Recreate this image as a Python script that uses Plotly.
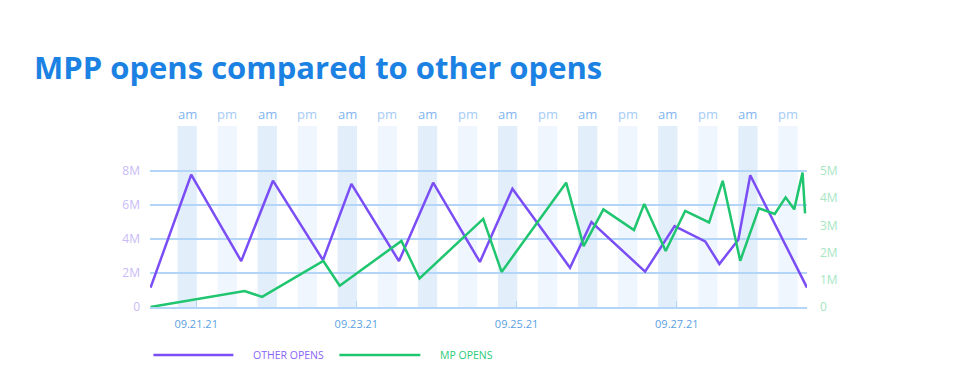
import plotly.graph_objects as go
import pandas as pd

# ---------------- data ----------------
other_dates = ["2021-09-20 10:20", "2021-09-20 22:30", "2021-09-21 13:30", "2021-09-21 23:00",
               "2021-09-22 14:00", "2021-09-22 22:30", "2021-09-23 12:45", "2021-09-23 23:00",
               "2021-09-24 13:00", "2021-09-24 22:45", "2021-09-25 16:00", "2021-09-25 22:25",
               "2021-09-26 14:30", "2021-09-26 23:20", "2021-09-27 08:30", "2021-09-27 12:45",
               "2021-09-27 18:25", "2021-09-27 22:00", "2021-09-28 15:00"]
other_opens = [1.14e6, 7.78e6, 2.70e6, 7.43e6, 2.76e6, 7.24e6, 2.70e6, 7.31e6, 2.65e6, 6.96e6,
               2.31e6, 5.00e6, 2.08e6, 4.76e6, 3.86e6, 2.53e6, 3.96e6, 7.75e6, 1.14e6]

mp_dates = ["2021-09-20 10:20", "2021-09-21 14:30", "2021-09-21 19:45", "2021-09-22 14:05",
            "2021-09-22 19:00", "2021-09-23 13:30", "2021-09-23 18:55", "2021-09-24 14:00",
            "2021-09-24 19:30", "2021-09-25 14:50", "2021-09-25 20:05", "2021-09-26 02:00",
            "2021-09-26 11:10", "2021-09-26 14:15", "2021-09-26 20:40", "2021-09-27 02:30",
            "2021-09-27 09:40", "2021-09-27 13:45", "2021-09-27 19:00", "2021-09-28 00:35",
            "2021-09-28 05:20", "2021-09-28 08:35", "2021-09-28 11:10", "2021-09-28 13:40",
            "2021-09-28 14:25"]
mp_opens = [0.0, 0.59e6, 0.37e6, 1.69e6, 0.78e6, 2.43e6, 1.05e6, 3.24e6, 1.29e6, 4.57e6,
            2.24e6, 3.59e6, 2.83e6, 3.79e6, 2.06e6, 3.53e6, 3.11e6, 4.64e6, 1.70e6, 3.63e6,
            3.42e6, 4.03e6, 3.59e6, 4.94e6, 3.44e6]

band_days = ["2021-09-21", "2021-09-22", "2021-09-23", "2021-09-24",
             "2021-09-25", "2021-09-26", "2021-09-27", "2021-09-28"]
x_tick_vals = ["2021-09-21", "2021-09-23", "2021-09-25", "2021-09-27"]
x_tick_text = ["09.21.21", "09.23.21", "09.25.21", "09.27.21"]
left_ticks = [0, 2e6, 4e6, 6e6, 8e6]
left_text = ["0", "2M", "4M", "6M", "8M"]
right_ticks = [0, 1e6, 2e6, 3e6, 4e6, 5e6]
right_text = ["0", "1M", "2M", "3M", "4M", "5M"]

# ---------------- style ----------------
PURPLE = "#7a4df5"
GREEN = "#1fc56f"
GRID = "#b3d5f7"
AM_BAND = "#e2effb"
PM_BAND = "#f0f6fe"
FONT = "Open Sans"

fig = go.Figure()
fig.add_trace(go.Scatter(x=other_dates, y=other_opens, mode="lines", name="OTHER OPENS",
                         line=dict(color=PURPLE, width=2.5), yaxis="y", showlegend=False))
fig.add_trace(go.Scatter(x=mp_dates, y=mp_opens, mode="lines", name="MP OPENS",
                         line=dict(color=GREEN, width=2.5), yaxis="y2", showlegend=False))

shapes = []
annotations = []
for d in band_days:
    day = pd.Timestamp(d)
    am0 = day - pd.Timedelta(hours=5, minutes=36)
    am1 = day + pd.Timedelta(minutes=12)
    pm0 = day + pd.Timedelta(hours=6, minutes=24)
    pm1 = day + pd.Timedelta(hours=12, minutes=12)
    for (a, b, col, lab, tc) in [(am0, am1, AM_BAND, "am", "#82b5ee"), (pm0, pm1, PM_BAND, "pm", "#a6cbf4")]:
        shapes.append(dict(type="rect", xref="x", yref="paper", x0=a, x1=b, y0=0, y1=1,
                           fillcolor=col, line=dict(width=0), layer="below"))
        annotations.append(dict(xref="x", yref="paper", x=a + (b - a) / 2, y=(307 - 114) / 181,
                                yanchor="middle", text=lab, showarrow=False,
                                font=dict(family=FONT, size=13, color=tc)))

# custom legend
leg_y = -0.265
shapes.append(dict(type="line", xref="paper", yref="paper", x0=(153 - 149.6) / 657.2, x1=(233 - 149.6) / 657.2,
                   y0=leg_y, y1=leg_y, line=dict(color=PURPLE, width=2.5)))
shapes.append(dict(type="line", xref="paper", yref="paper", x0=(339 - 149.6) / 657.2, x1=(420 - 149.6) / 657.2,
                   y0=leg_y, y1=leg_y, line=dict(color=GREEN, width=2.5)))
annotations.append(dict(xref="paper", yref="paper", x=(251 - 149.6) / 657.2, y=leg_y, xanchor="left",
                        yanchor="middle", text="OTHER OPENS", showarrow=False,
                        font=dict(family=FONT, size=10.5, color="#8a63f7")))
annotations.append(dict(xref="paper", yref="paper", x=(438 - 149.6) / 657.2, y=leg_y, xanchor="left",
                        yanchor="middle", text="MP OPENS", showarrow=False,
                        font=dict(family=FONT, size=10.5, color="#2bcb78")))

# title
annotations.append(dict(xref="paper", yref="paper", x=(32 - 149.6) / 657.2, y=(307 - 67) / 181,
                        xanchor="left", yanchor="middle", text="<b>MPP opens compared to other opens</b>",
                        showarrow=False, font=dict(family=FONT, size=31, color="#1b82e3")))

frac = (307 - 171) / 181.0
fig.update_layout(
    width=960, height=384,
    margin=dict(l=149.6, r=153.2, t=126, b=77),
    paper_bgcolor="white", plot_bgcolor="white",
    shapes=shapes, annotations=annotations,
    xaxis=dict(type="date", range=["2021-09-20 10:10", "2021-09-28 15:00"],
               tickvals=x_tick_vals, ticktext=x_tick_text, showgrid=False, zeroline=False,
               showline=True, linecolor=GRID, linewidth=1.5, ticks="inside", ticklen=6,
               tickcolor=GRID, ticklabelstandoff=6,
               tickfont=dict(family=FONT, size=11, color="#5c9fe2")),
    yaxis=dict(range=[0, 8e6 / frac], tickvals=left_ticks, ticktext=left_text, showgrid=True,
               gridcolor=GRID, gridwidth=1.5, zeroline=False, showline=False,
               ticklabelstandoff=9,
               tickfont=dict(family=FONT, size=12, color="#c9bbf8")),
    yaxis2=dict(range=[0, 5e6 / frac], tickvals=right_ticks, ticktext=right_text, overlaying="y",
                side="right", showgrid=False, zeroline=False, showline=False,
                ticklabelstandoff=12,
                tickfont=dict(family=FONT, size=12, color="#a6e6c3")),
)

fig.write_html("out.html", config={"displayModeBar": False},
               post_script="document.body.style.margin='0';")
